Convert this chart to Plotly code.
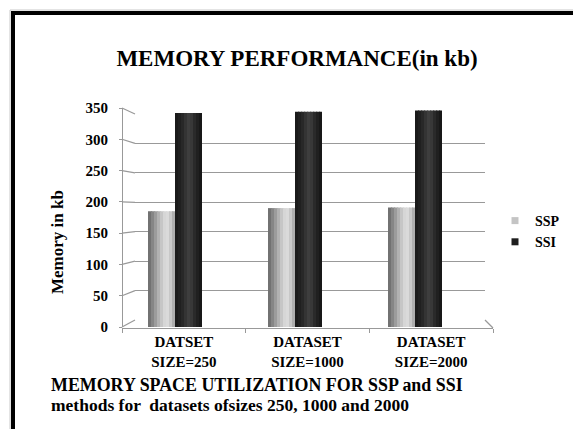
import plotly.graph_objects as go

# ---- data -------------------------------------------------------------
categories = ["DATSET<br>SIZE=250", "DATASET<br>SIZE=1000", "DATASET<br>SIZE=2000"]
ssp_values = [185, 190, 191]
ssi_values = [342, 344, 346]
y_tick_values = [0, 50, 100, 150, 200, 250, 300, 350]

# ---- figure geometry helpers (pixel -> paper fraction) -----------------
W, H = 573, 429


def fx(px):
    return px / W


def fy(py):
    return 1 - py / H


GRID = "#999999"
FONT = "Liberation Serif"

# front (label) scale and back-wall scale, in pixels
FRONT_X, FRONT_BOTTOM, FRONT_TOP = 122, 327, 108
BACK_X, BACK_RIGHT, BACK_BOTTOM, BACK_TOP = 135, 485, 320, 114
FLOOR_FRONT_Y, FLOOR_RIGHT_X = 328, 493
Y_MAX = 350


def y_front(v):
    return FRONT_BOTTOM - v * (FRONT_BOTTOM - FRONT_TOP) / Y_MAX


def y_back(v):
    return BACK_BOTTOM - v * (BACK_BOTTOM - BACK_TOP) / Y_MAX


fig = go.Figure()

# back wall subplot (carries the gridlines only)
fig.add_trace(go.Scatter(x=[None], y=[None], xaxis="x", yaxis="y", mode="markers",
                         hoverinfo="skip", showlegend=False))

# ---- cylinder-like bars: each bar built from thin shaded strips ---------
bar_w = 0.225
n_strips = 9
ssp_shades = [0x72, 0x86, 0x9c, 0xb2, 0xc6, 0xd6, 0xda, 0xc8, 0xae]
ssi_shades = [0x1a, 0x20, 0x28, 0x34, 0x3e, 0x38, 0x2a, 0x20, 0x18]

for name, vals, shades, start in [
    ("SSP", ssp_values, ssp_shades, -bar_w),
    ("SSI", ssi_values, ssi_shades, 0.0),
]:
    step = bar_w / n_strips
    for i, g in enumerate(shades):
        w = step if i == n_strips - 1 else step * 1.4
        fig.add_trace(go.Bar(
            x=categories, y=vals,
            offset=start + i * step, width=w,
            marker=dict(color=f"rgb({g},{g},{g})", line=dict(width=0)),
            xaxis="x2", yaxis="y2",
            name=name, legendgroup=name, showlegend=False,
            hoverinfo="skip",
        ))

# category labels on the front edge of the floor
fig.add_trace(go.Scatter(
    x=categories, y=ssp_values, xaxis="x3", yaxis="y2",
    mode="markers", marker=dict(opacity=0), hoverinfo="skip", showlegend=False,
))

# legend entries
for name, col in [("SSP", "#c4c4c4"), ("SSI", "#1e1e1e")]:
    fig.add_trace(go.Scatter(
        x=[None], y=[None], xaxis="x2", yaxis="y2", mode="markers",
        marker=dict(symbol="square", size=7, color=col),
        name=name, legendgroup=name, showlegend=True,
    ))

# ---- decoration shapes ----------------------------------------------
shapes = []
# outer frame
shapes.append(dict(type="rect", xref="paper", yref="paper",
                   x0=fx(10), y0=fy(10), x1=fx(700), y1=fy(700),
                   line=dict(color="#c8c8c8", width=1)))
shapes.append(dict(type="rect", xref="paper", yref="paper",
                   x0=fx(13), y0=fy(13), x1=fx(700), y1=fy(700),
                   line=dict(color="black", width=4)))
# side wall: links from front ticks to back-wall gridlines
for v in y_tick_values:
    shapes.append(dict(type="line", xref="paper", yref="paper",
                       x0=fx(FRONT_X), y0=fy(y_front(v)),
                       x1=fx(BACK_X), y1=fy(y_back(v)),
                       line=dict(color=GRID, width=1.2)))
# floor right edge
shapes.append(dict(type="line", xref="paper", yref="paper",
                   x0=fx(FLOOR_RIGHT_X), y0=fy(FLOOR_FRONT_Y),
                   x1=fx(BACK_RIGHT), y1=fy(BACK_BOTTOM),
                   line=dict(color=GRID, width=1.2)))

annotations = [
    dict(text="Memory in kb", x=fx(57), y=fy(242), xref="paper", yref="paper",
         textangle=-90, showarrow=False, xanchor="center", yanchor="middle",
         font=dict(family=FONT, size=17, weight="bold", color="black")),
    dict(text="MEMORY SPACE UTILIZATION FOR SSP and SSI", x=fx(49), y=fy(385),
         xref="paper", yref="paper", showarrow=False, xanchor="left", yanchor="middle",
         font=dict(family=FONT, size=17.9, weight="bold", color="black")),
    dict(text="methods for  datasets ofsizes 250, 1000 and 2000", x=fx(49), y=fy(405),
         xref="paper", yref="paper", showarrow=False, xanchor="left", yanchor="middle",
         font=dict(family=FONT, size=17.5, weight="bold", color="black")),
]

fig.update_layout(
    width=W, height=H,
    margin=dict(l=0, r=0, t=0, b=0),
    template="none",
    paper_bgcolor="white",
    plot_bgcolor="rgba(0,0,0,0)",
    barmode="overlay",
    font=dict(family=FONT, color="black"),
    title=dict(text="MEMORY PERFORMANCE(in kb)", x=fx(297), y=fy(58),
               xanchor="center", yanchor="middle", xref="paper", yref="paper",
               font=dict(family=FONT, size=23, weight="bold", color="black")),
    # back wall with its gridlines
    xaxis=dict(domain=[fx(BACK_X), fx(BACK_RIGHT)], range=[0, 1], visible=False,
               anchor="y"),
    yaxis=dict(domain=[fy(BACK_BOTTOM), fy(BACK_TOP)], range=[0, Y_MAX],
               tickvals=y_tick_values, showgrid=True, gridcolor=GRID, gridwidth=1.3,
               zeroline=False, showticklabels=False, ticks="", showline=False,
               anchor="x"),
    # bars
    xaxis2=dict(domain=[fx(115), fx(475)], type="category", range=[-0.5, 2.5],
                visible=False, anchor="y2"),
    yaxis2=dict(domain=[fy(FRONT_BOTTOM), fy(FRONT_TOP)], range=[0, Y_MAX],
                tickvals=y_tick_values, anchor="free", position=fx(FRONT_X),
                showline=True, linecolor=GRID, linewidth=1.2,
                ticks="outside", ticklen=3, tickcolor=GRID,
                ticklabelstandoff=8,
                tickfont=dict(family=FONT, size=15, weight="bold", color="black"),
                showgrid=False, zeroline=False),
    # floor front edge with category labels
    xaxis3=dict(domain=[fx(FRONT_X), fx(FLOOR_RIGHT_X)], type="category",
                range=[-0.5, 2.5], anchor="free", position=fy(FLOOR_FRONT_Y),
                showline=True, linecolor=GRID, linewidth=1.2,
                ticks="outside", tickson="boundaries", ticklen=4, tickcolor=GRID,
                tickfont=dict(family=FONT, size=15, weight="bold", color="black"),
                showgrid=False, zeroline=False),
    legend=dict(x=fx(495), y=fy(205), xanchor="left", yanchor="top",
                xref="paper", yref="paper", bgcolor="rgba(0,0,0,0)",
                itemwidth=30, tracegroupgap=0,
                font=dict(family=FONT, size=14, weight="bold", color="black")),
    shapes=shapes,
    annotations=annotations,
)

fig.write_html("out.html")
